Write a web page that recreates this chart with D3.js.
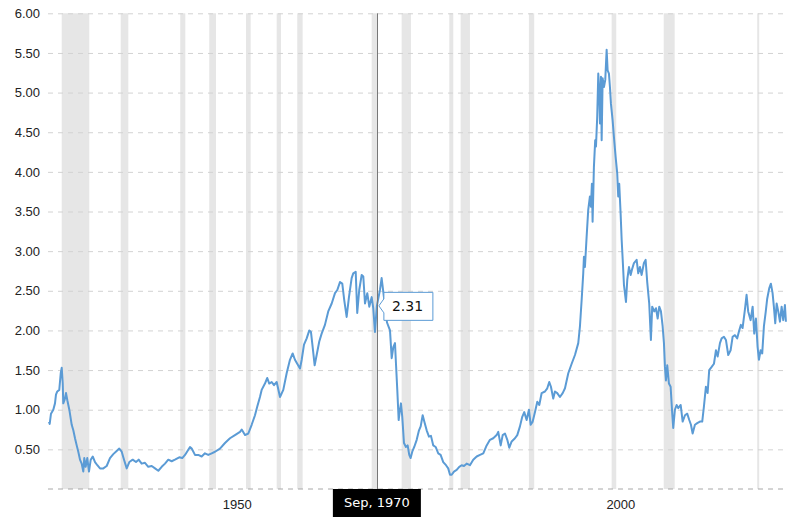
<!DOCTYPE html>
<html>
<head>
<meta charset="utf-8">
<script src="https://cdn.jsdelivr.net/npm/d3@7"></script>
<style>
  body { margin: 0; background: #fff; }
  svg { display: block; font-family: "DejaVu Sans", Verdana, sans-serif; }
</style>
</head>
<body>
<div id="chart"></div>
<script>
// S&P 500 to gold ratio (decimal years)
const years = [
  1927.93, 1928.02, 1928.19, 1928.49, 1928.71, 1928.84, 1929.01, 1929.27, 1929.46, 1929.59,
  1929.72, 1929.79, 1929.98, 1930.15, 1930.32, 1930.58, 1930.89, 1931.10, 1931.32, 1931.54,
  1931.75, 1931.97, 1932.19, 1932.40, 1932.53, 1932.71, 1932.92, 1933.14, 1933.37, 1933.63,
  1933.93, 1934.23, 1934.58, 1935.01, 1935.45, 1935.88, 1936.31, 1936.75, 1937.09, 1937.41,
  1937.71, 1938.06, 1938.40, 1938.84, 1939.27, 1939.62, 1940.01, 1940.44, 1940.87, 1941.32,
  1941.75, 1942.18, 1942.62, 1943.05, 1943.48, 1943.92, 1944.35, 1944.91, 1945.30, 1945.66,
  1946.31, 1946.53, 1946.96, 1947.39, 1947.83, 1948.26, 1948.69, 1949.14, 1949.57, 1950.22,
  1950.87, 1951.52, 1952.17, 1952.83, 1953.05, 1953.48, 1953.91, 1954.35, 1954.78, 1955.08,
  1955.43, 1955.65, 1956.08, 1956.38, 1956.64, 1956.96, 1957.26, 1957.61, 1958.04, 1958.47,
  1958.91, 1959.34, 1959.69, 1959.99, 1960.29, 1960.65, 1960.87, 1961.17, 1961.52, 1961.86,
  1962.08, 1962.30, 1962.56, 1962.82, 1963.16, 1963.47, 1963.90, 1964.33, 1964.78, 1965.21,
  1965.51, 1965.86, 1966.16, 1966.42, 1966.73, 1967.03, 1967.38, 1967.59, 1967.91, 1968.11,
  1968.37, 1968.69, 1968.90, 1969.12, 1969.42, 1969.68, 1969.99, 1970.20, 1970.42, 1970.67,
  1971.07, 1971.29, 1971.59, 1971.99, 1972.38, 1972.60, 1972.81, 1973.03, 1973.16, 1973.33,
  1973.51, 1973.68, 1973.81, 1973.98, 1974.20, 1974.46, 1974.68, 1974.89, 1975.07, 1975.28,
  1975.54, 1975.86, 1976.16, 1976.38, 1976.64, 1976.85, 1977.16, 1977.46, 1977.72, 1978.02,
  1978.33, 1978.67, 1978.98, 1979.32, 1979.68, 1979.97, 1980.20, 1980.42, 1980.72, 1981.07,
  1981.41, 1981.72, 1982.02, 1982.37, 1982.80, 1983.23, 1983.68, 1984.11, 1984.54, 1984.98,
  1985.41, 1985.84, 1986.28, 1986.49, 1986.81, 1987.07, 1987.37, 1987.67, 1987.93, 1988.24,
  1988.67, 1988.97, 1989.32, 1989.62, 1989.88, 1990.19, 1990.49, 1990.72, 1990.98, 1991.28,
  1991.58, 1991.84, 1992.15, 1992.58, 1992.88, 1993.14, 1993.36, 1993.66, 1993.88, 1994.18,
  1994.53, 1994.89, 1995.19, 1995.62, 1996.06, 1996.49, 1996.92, 1997.14, 1997.36, 1997.57,
  1997.66, 1997.79, 1998.01, 1998.22, 1998.44, 1998.57, 1998.70, 1998.79, 1998.96, 1999.13,
  1999.23, 1999.39, 1999.53, 1999.66, 1999.75, 1999.88, 1999.97, 2000.10, 2000.27, 2000.44,
  2000.62, 2000.75, 2000.92, 2001.05, 2001.18, 2001.40, 2001.57, 2001.79, 2002.00, 2002.13,
  2002.26, 2002.44, 2002.58, 2002.71, 2002.88, 2003.14, 2003.31, 2003.53, 2003.75, 2003.96,
  2004.18, 2004.53, 2004.74, 2004.96, 2005.18, 2005.48, 2005.70, 2005.91, 2006.17, 2006.39,
  2006.56, 2006.82, 2007.05, 2007.27, 2007.48, 2007.70, 2007.92, 2008.09, 2008.22, 2008.35,
  2008.52, 2008.74, 2008.96, 2009.17, 2009.30, 2009.52, 2009.74, 2009.95, 2010.27, 2010.53,
  2010.83, 2011.13, 2011.39, 2011.61, 2011.83, 2012.13, 2012.43, 2012.78, 2013.08, 2013.30,
  2013.56, 2013.78, 2013.99, 2014.31, 2014.61, 2014.87, 2015.09, 2015.39, 2015.61, 2015.91,
  2016.17, 2016.47, 2016.78, 2017.04, 2017.34, 2017.64, 2017.90, 2018.12, 2018.34, 2018.64,
  2018.86, 2019.07, 2019.39, 2019.65, 2019.86, 2020.08, 2020.30, 2020.47, 2020.69, 2020.90,
  2021.12, 2021.34, 2021.55, 2021.81, 2022.03, 2022.25, 2022.42, 2022.60, 2022.78, 2022.99,
  2023.21, 2023.43, 2023.64, 2023.86, 2023.99
];
const ratio = [
  0.85, 0.82, 0.95, 1.00, 1.08, 1.19, 1.23, 1.25, 1.46, 1.53,
  1.33, 1.08, 1.13, 1.21, 1.12, 1.00, 0.81, 0.74, 0.64, 0.55,
  0.47, 0.37, 0.32, 0.22, 0.39, 0.28, 0.39, 0.22, 0.37, 0.41,
  0.34, 0.30, 0.26, 0.26, 0.29, 0.39, 0.44, 0.48, 0.51, 0.47,
  0.37, 0.26, 0.34, 0.37, 0.34, 0.37, 0.32, 0.33, 0.28, 0.29,
  0.26, 0.23, 0.28, 0.32, 0.37, 0.35, 0.37, 0.40, 0.39, 0.43,
  0.53, 0.51, 0.43, 0.43, 0.41, 0.45, 0.43, 0.45, 0.47, 0.51,
  0.58, 0.64, 0.68, 0.72, 0.75, 0.68, 0.70, 0.81, 0.93, 1.04,
  1.16, 1.25, 1.33, 1.40, 1.33, 1.35, 1.31, 1.35, 1.16, 1.25,
  1.46, 1.63, 1.71, 1.63, 1.58, 1.52, 1.63, 1.82, 1.90, 2.00,
  1.98, 1.79, 1.56, 1.69, 1.86, 1.96, 2.07, 2.24, 2.34, 2.47,
  2.51, 2.61, 2.59, 2.38, 2.17, 2.42, 2.66, 2.72, 2.74, 2.22,
  2.51, 2.70, 2.68, 2.34, 2.47, 2.30, 2.42, 2.28, 1.98, 2.31,
  2.51, 2.66, 2.42, 2.10, 2.00, 1.65, 1.79, 1.84, 1.58, 1.25,
  0.87, 1.00, 1.08, 0.91, 0.58, 0.53, 0.55, 0.43, 0.39, 0.47,
  0.53, 0.62, 0.74, 0.79, 0.93, 0.85, 0.74, 0.66, 0.67, 0.55,
  0.53, 0.45, 0.43, 0.34, 0.30, 0.26, 0.18, 0.18, 0.22, 0.24,
  0.28, 0.30, 0.29, 0.32, 0.30, 0.37, 0.41, 0.43, 0.45, 0.55,
  0.62, 0.64, 0.68, 0.72, 0.55, 0.68, 0.70, 0.62, 0.52, 0.60,
  0.64, 0.68, 0.79, 0.91, 0.97, 0.87, 1.00, 0.81, 0.85, 0.97,
  1.10, 1.06, 1.21, 1.23, 1.27, 1.35, 1.29, 1.14, 1.23, 1.21,
  1.16, 1.21, 1.27, 1.46, 1.58, 1.69, 1.84, 2.05, 2.38, 2.72,
  2.93, 2.80, 3.18, 3.52, 3.69, 3.56, 3.85, 3.37, 4.06, 4.40,
  4.32, 4.69, 5.24, 4.99, 4.61, 5.20, 4.40, 5.18, 5.07, 5.16,
  5.54, 5.28, 5.24, 5.07, 4.86, 4.65, 4.44, 4.19, 3.98, 3.69,
  3.85, 3.48, 3.14, 2.90, 2.57, 2.36, 2.64, 2.80, 2.70, 2.78,
  2.85, 2.89, 2.72, 2.80, 2.70, 2.85, 2.89, 2.61, 2.34, 1.88,
  2.30, 2.24, 2.28, 2.15, 2.30, 2.24, 2.05, 1.84, 1.54, 1.37,
  1.56, 1.33, 1.29, 0.95, 0.77, 1.00, 1.06, 1.02, 1.06, 0.85,
  0.93, 0.95, 0.87, 0.81, 0.70, 0.81, 0.83, 0.85, 0.85, 1.04,
  1.29, 1.21, 1.50, 1.54, 1.58, 1.75, 1.67, 1.84, 1.90, 1.92,
  1.88, 1.69, 1.75, 1.92, 1.94, 1.90, 2.00, 2.07, 2.03, 2.26,
  2.45, 2.24, 2.13, 2.30, 1.96, 2.15, 1.79, 1.63, 1.75, 1.71,
  2.05, 2.22, 2.40, 2.53, 2.59, 2.47, 2.30, 2.09, 2.34, 2.24,
  2.11, 2.30, 2.13, 2.32, 2.11
];

// recession bands
const recessionStart = [1929.59, 1937.28, 1945.04, 1948.82, 1953.61, 1957.61, 1960.29, 1969.99, 1973.90, 1980.11, 1981.59, 1990.49, 2001.27, 2008.06, 2020.25];
const recessionEnd   = [1933.18, 1938.27, 1945.70, 1949.70, 1954.22, 1958.17, 1960.99, 1970.71, 1975.11, 1980.63, 1982.80, 1991.18, 2001.87, 2009.49, 2020.51];

const yTicks = [0.5, 1, 1.5, 2, 2.5, 3, 3.5, 4, 4.5, 5, 5.5, 6];
const xTicks = [1950, 2000];

// hovered point shown in the picture
const hoverYear = 1970.67;
const hoverValue = 2.31;
const hoverLabel = "Sep, 1970";

const width = 811, height = 517;
const plotLeft = 48, plotRight = 786, plotTop = 13.3, plotBottom = 489;

const data = years.map((d, i) => ({ year: d, value: ratio[i] }));

const svg = d3.select("#chart")
    .append("svg")
    .attr("width", width)
    .attr("height", height);

const x = d3.scaleLinear()
    .domain([1927.8, 2024.0])
    .range([plotLeft, plotRight]);

const y = d3.scaleLinear()
    .domain([0, 6])
    .range([plotBottom, plotTop]);

// recession shading
svg.append("g").selectAll("rect")
    .data(recessionStart)
    .enter().append("rect")
    .attr("x", d => x(d))
    .attr("width", (d, i) => Math.max(1.5, x(recessionEnd[i]) - x(d)))
    .attr("y", y(6))
    .attr("height", y(0) - y(6))
    .attr("fill", "#e6e6e6");

// horizontal grid + labels
const yAxis = svg.append("g")
    .attr("transform", `translate(${plotLeft},0)`)
    .call(d3.axisLeft(y)
        .tickValues(yTicks)
        .tickFormat(d3.format(".2f"))
        .tickSize(-(783 - plotLeft))
        .tickPadding(8));
yAxis.select(".domain").remove();
yAxis.selectAll(".tick line")
    .attr("stroke", "#d2d2d2")
    .attr("stroke-dasharray", "5,5");
yAxis.selectAll(".tick text")
    .attr("fill", "#222")
    .attr("font-size", 13);

// base line
svg.append("line")
    .attr("x1", plotLeft).attr("x2", 783)
    .attr("y1", y(0)).attr("y2", y(0))
    .attr("stroke", "#a8a8a8")
    .attr("stroke-dasharray", "5,5");

// x labels
const xAxis = svg.append("g")
    .attr("transform", `translate(0,${plotBottom})`)
    .call(d3.axisBottom(x)
        .tickValues(xTicks)
        .tickFormat(d3.format("d"))
        .tickSize(0));
xAxis.select(".domain").remove();
xAxis.selectAll(".tick text")
    .attr("text-anchor", "start")
    .attr("dx", 4)
    .attr("y", 11)
    .attr("fill", "#222")
    .attr("font-size", 13);

// the ratio line
const line = d3.line()
    .x(d => x(d.year))
    .y(d => y(d.value));

svg.append("path")
    .datum(data)
    .attr("fill", "none")
    .attr("stroke", "#5b9bd5")
    .attr("stroke-width", 2)
    .attr("stroke-linejoin", "round")
    .attr("d", line);

// crosshair
const hx = Math.round(x(hoverYear)) + 0.5;
svg.append("line")
    .attr("x1", hx).attr("x2", hx)
    .attr("y1", plotTop).attr("y2", plotBottom)
    .attr("stroke", "#777")
    .attr("stroke-width", 1);

// value tooltip
const px = x(hoverYear), py = y(hoverValue);
const bl = px + 7, bt = py - 13.5, br = bl + 49, bb = py + 14.5;
svg.append("path")
    .attr("d", `M${bl},${bt} H${br} V${bb} H${bl} V${py + 7} L${px + 2},${py} L${bl},${py - 7} Z`)
    .attr("fill", "#fff")
    .attr("stroke", "#5b9bd5")
    .attr("stroke-width", 1);
svg.append("text")
    .attr("x", bl + 8)
    .attr("y", py + 5)
    .attr("font-size", 14)
    .attr("fill", "#111")
    .text(hoverValue.toFixed(2));

// date tooltip on the axis
svg.append("rect")
    .attr("x", px - 44)
    .attr("y", plotBottom)
    .attr("width", 88)
    .attr("height", height - plotBottom)
    .attr("fill", "#000");
svg.append("text")
    .attr("x", px)
    .attr("y", 507)
    .attr("text-anchor", "middle")
    .attr("font-size", 13)
    .attr("fill", "#fff")
    .text(hoverLabel);
</script>
</body>
</html>
